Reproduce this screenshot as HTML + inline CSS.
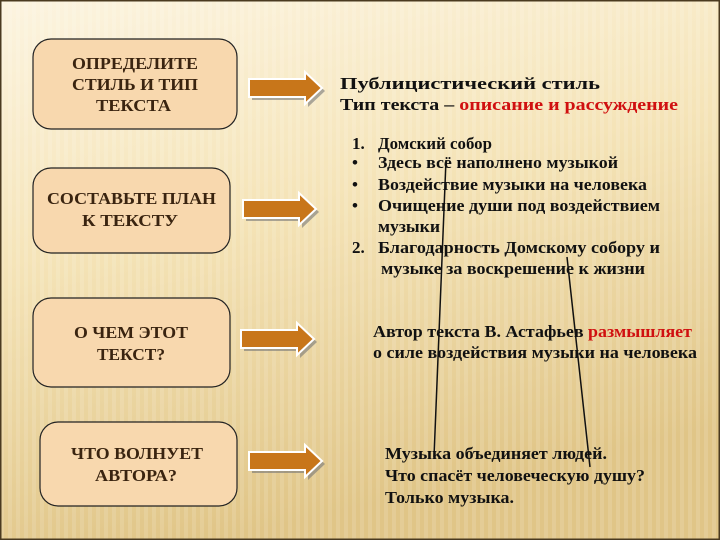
<!DOCTYPE html>
<html><head><meta charset="utf-8"><style>
html,body{margin:0;padding:0;}
body{width:720px;height:540px;overflow:hidden;}
svg{display:block;}
.bx{font-family:"Liberation Serif",serif;font-weight:bold;font-size:17px;fill:#3a2410;}
.t{font-family:"Liberation Serif",serif;font-weight:bold;font-size:17px;fill:#111;}
.r{fill:#d01010;}
</style></head><body>
<svg width="720" height="540" viewBox="0 0 720 540" xmlns="http://www.w3.org/2000/svg">
<defs>
<linearGradient id="bg" x1="0" y1="0" x2="0.3" y2="1">
<stop offset="0" stop-color="#fcf4e0"/>
<stop offset="0.45" stop-color="#f5e4b8"/>
<stop offset="1" stop-color="#e0c587"/>
</linearGradient>
<pattern id="st" width="8" height="8" patternUnits="userSpaceOnUse">
<rect width="4" height="8" fill="#ffffff" opacity="0.12"/>
</pattern>
<g id="arr">
<path d="M3,10 H59 V3 L76,19 L59,35 V28 H3 Z" fill="#777" opacity="0.6"/>
<path d="M0,7 H56 V0 L73,16 L56,32 V25 H0 Z" fill="#c8761a" stroke="#fff" stroke-width="2"/>
</g>
</defs>
<rect width="720" height="540" fill="url(#bg)"/>
<rect width="720" height="540" fill="url(#st)"/>
<rect x="0.5" y="0.5" width="719" height="539" fill="none" stroke="#4a3a20" stroke-width="2"/>

<g stroke="#222" stroke-width="1.2" fill="#f8d8ae">
<rect x="33" y="39" width="204" height="90" rx="18"/>
<rect x="33" y="168" width="197" height="85" rx="18"/>
<rect x="33" y="298" width="197" height="89" rx="18"/>
<rect x="40" y="422" width="197" height="84" rx="18"/>
</g>
<g class="bx" lengthAdjust="spacingAndGlyphs">
<text x="72" y="69" textLength="126" lengthAdjust="spacingAndGlyphs">ОПРЕДЕЛИТЕ</text>
<text x="72" y="90" textLength="126" lengthAdjust="spacingAndGlyphs">СТИЛЬ И ТИП</text>
<text x="96" y="111" textLength="75" lengthAdjust="spacingAndGlyphs">ТЕКСТА</text>
<text x="47" y="204" textLength="169" lengthAdjust="spacingAndGlyphs">СОСТАВЬТЕ ПЛАН</text>
<text x="82" y="226" textLength="96" lengthAdjust="spacingAndGlyphs">К ТЕКСТУ</text>
<text x="74" y="338" textLength="114" lengthAdjust="spacingAndGlyphs">О ЧЕМ ЭТОТ</text>
<text x="97" y="360" textLength="68" lengthAdjust="spacingAndGlyphs">ТЕКСТ?</text>
<text x="71" y="459" textLength="132" lengthAdjust="spacingAndGlyphs">ЧТО ВОЛНУЕТ</text>
<text x="95" y="481" textLength="82" lengthAdjust="spacingAndGlyphs">АВТОРА?</text>
</g>

<use href="#arr" x="249" y="72"/>
<use href="#arr" x="243" y="193"/>
<use href="#arr" x="241" y="323"/>
<use href="#arr" x="249" y="445"/>

<g class="t">
<text x="340" y="89" textLength="260" lengthAdjust="spacingAndGlyphs">Публицистический стиль</text>
<text x="340" y="110" textLength="338" lengthAdjust="spacingAndGlyphs">Тип текста – <tspan class="r">описание и рассуждение</tspan></text>
<text x="352" y="149">1.</text><text x="378" y="149" textLength="114" lengthAdjust="spacingAndGlyphs">Домский собор</text>
<text x="352" y="168">•</text><text x="378" y="168" textLength="240" lengthAdjust="spacingAndGlyphs">Здесь всё наполнено музыкой</text>
<text x="352" y="190">•</text><text x="378" y="190" textLength="269" lengthAdjust="spacingAndGlyphs">Воздействие музыки на человека</text>
<text x="352" y="211">•</text><text x="378" y="211" textLength="282" lengthAdjust="spacingAndGlyphs">Очищение души под воздействием</text>
<text x="378" y="232" textLength="62" lengthAdjust="spacingAndGlyphs">музыки</text>
<text x="352" y="253">2.</text><text x="378" y="253" textLength="282" lengthAdjust="spacingAndGlyphs">Благодарность Домскому собору и</text>
<text x="381" y="274" textLength="264" lengthAdjust="spacingAndGlyphs">музыке за воскрешение к жизни</text>
<text x="373" y="337" textLength="319" lengthAdjust="spacingAndGlyphs">Автор текста В. Астафьев <tspan class="r">размышляет</tspan></text>
<text x="373" y="358" textLength="324" lengthAdjust="spacingAndGlyphs">о силе воздействия музыки на человека</text>
<text x="385" y="459" textLength="222" lengthAdjust="spacingAndGlyphs">Музыка объединяет людей.</text>
<text x="385" y="481" textLength="260" lengthAdjust="spacingAndGlyphs">Что спасёт человеческую душу?</text>
<text x="385" y="503" textLength="129" lengthAdjust="spacingAndGlyphs">Только музыка.</text>
</g>
<g stroke="#111" stroke-width="1.5">
<line x1="446" y1="160" x2="434" y2="457"/>
<line x1="567" y1="257" x2="590" y2="467"/>
</g>
</svg>
</body></html>
